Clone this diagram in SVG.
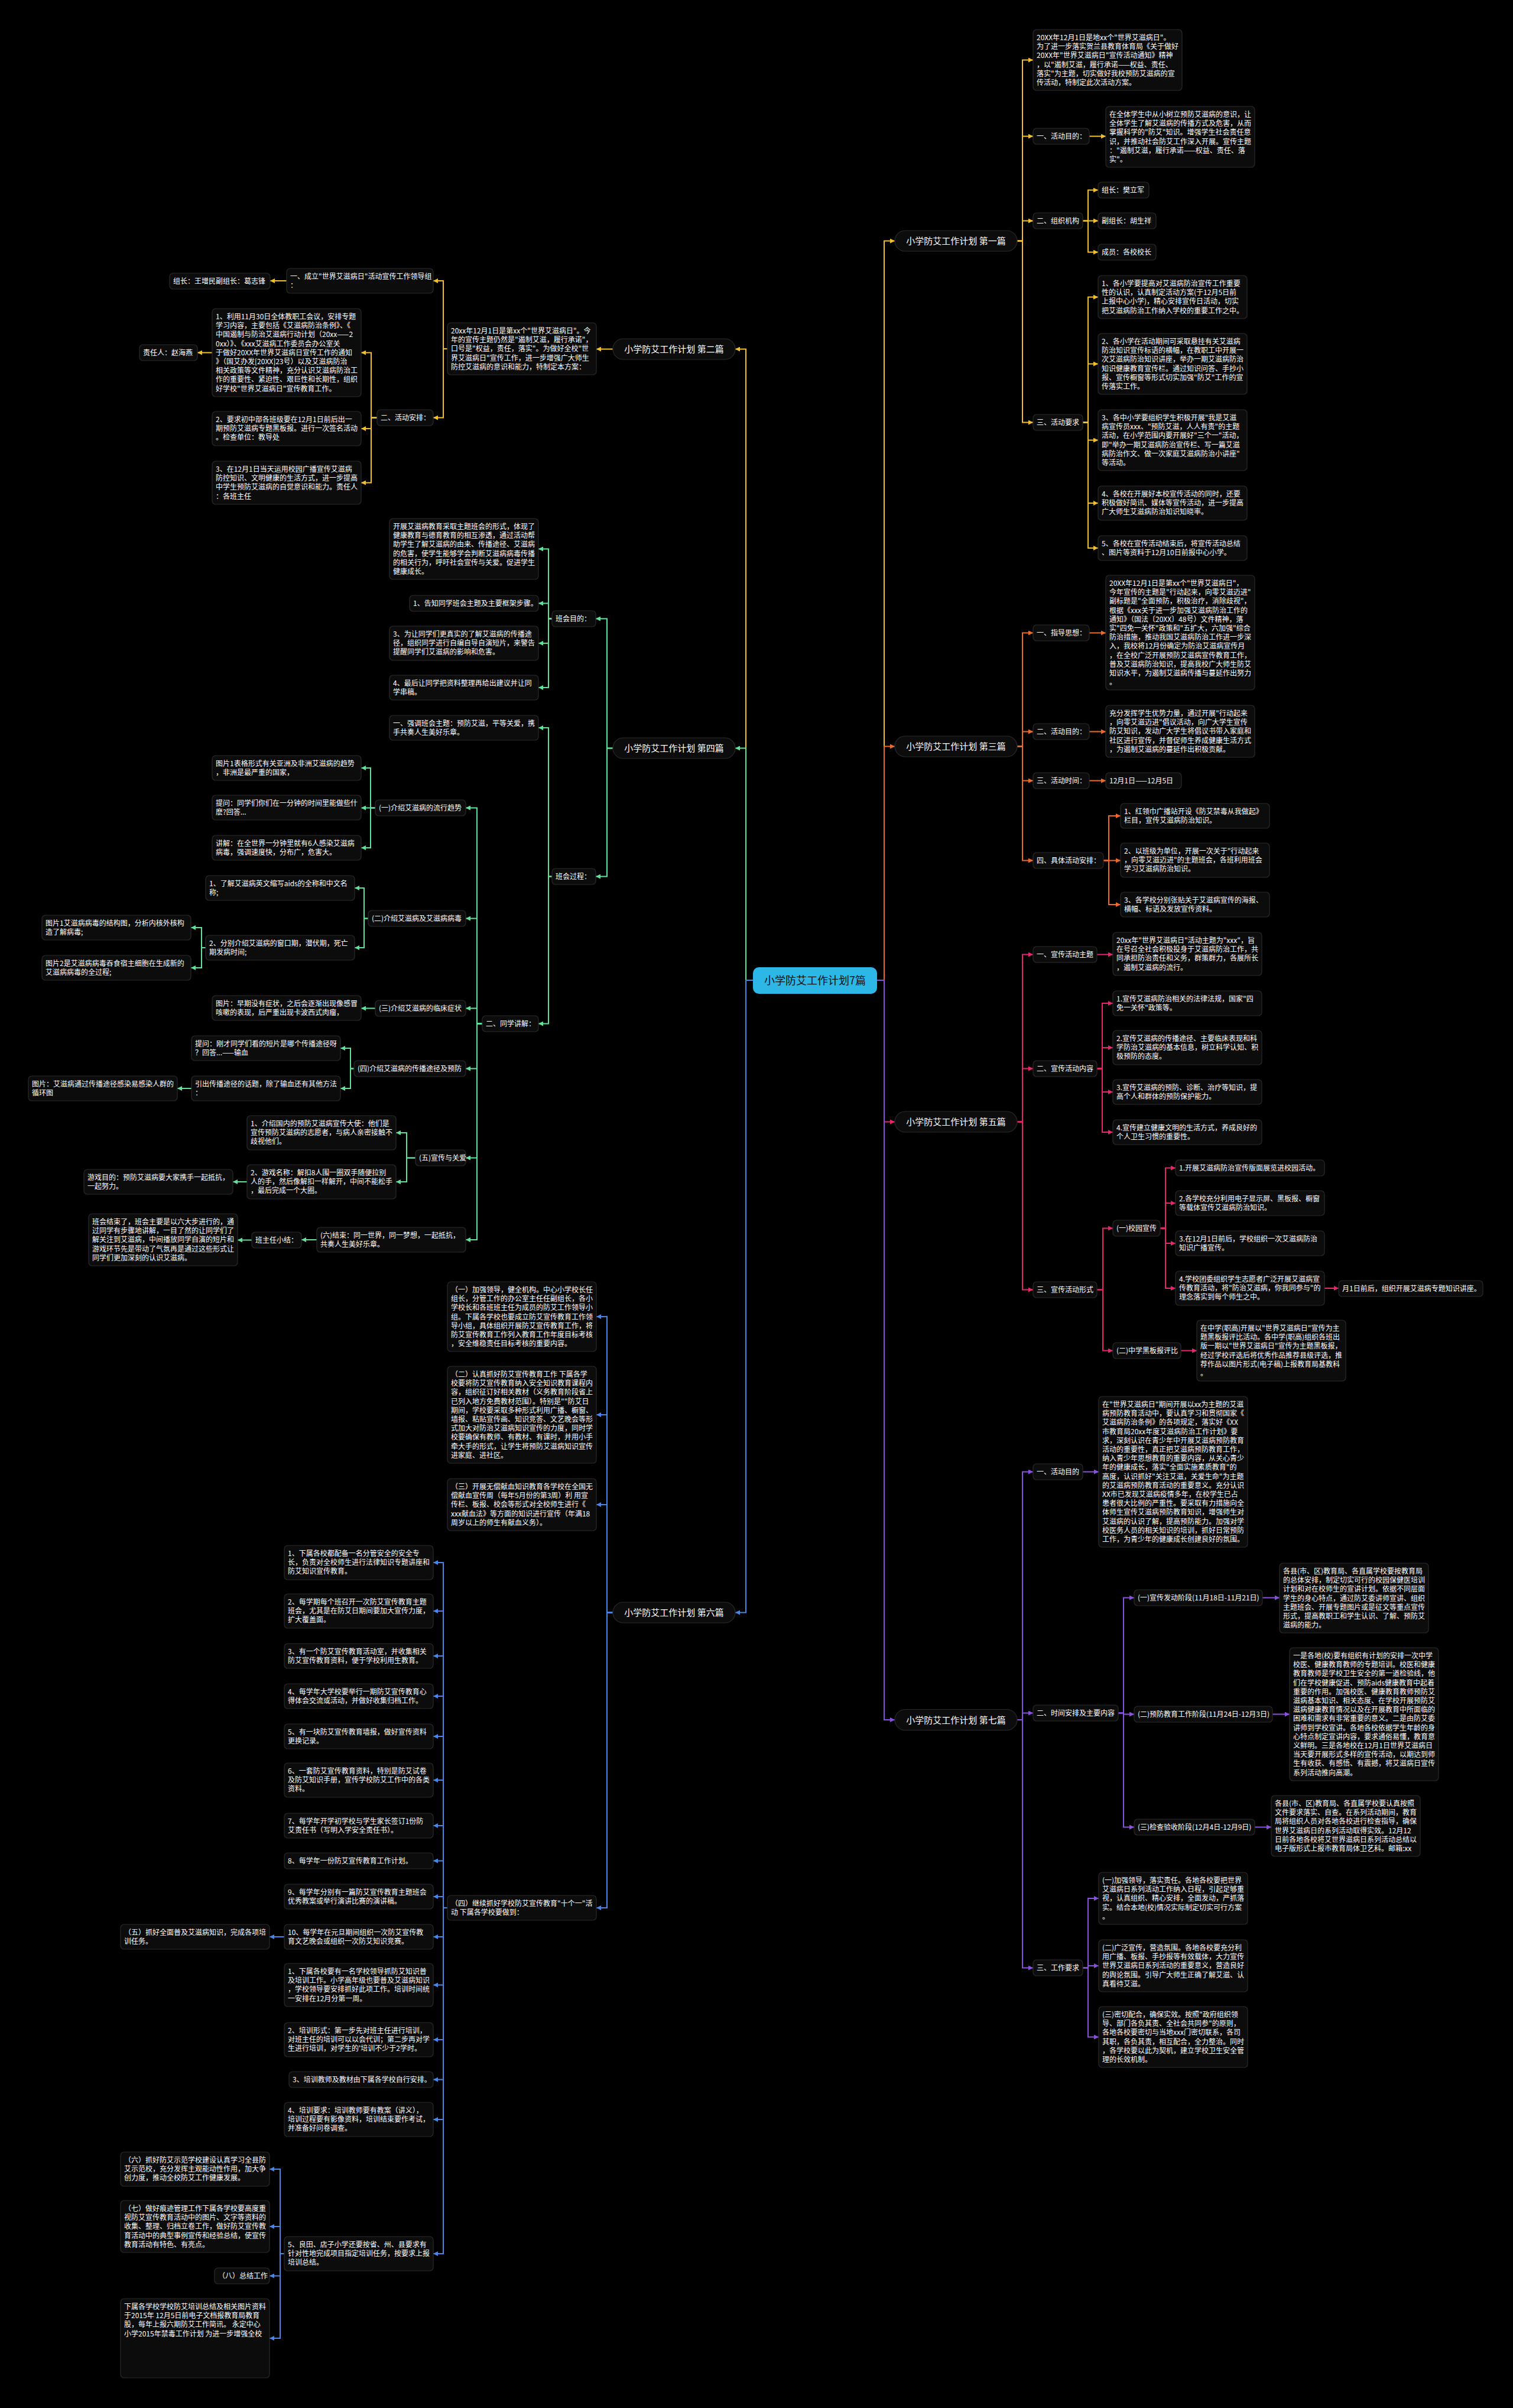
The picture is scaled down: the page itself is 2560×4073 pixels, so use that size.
<svg xmlns="http://www.w3.org/2000/svg" width="2560" height="4073" viewBox="0 0 2560 4073">
<style>
.b{fill:#0c0c0c;stroke:#2a2a2a;stroke-width:1.2}
.lb{fill:#0c0c0c;stroke:#2a2a2a;stroke-width:1.2}
.t{font-family:"Noto Sans CJK SC","Noto Sans",sans-serif;font-size:12px;fill:#ffffff}
.l{font-family:"Noto Sans CJK SC","Noto Sans",sans-serif;font-size:15px;fill:#ffffff;text-anchor:middle}
.c{fill:none;stroke-width:2}
.y{stroke:#f0c030}.o{stroke:#ee6a2a}.p{stroke:#e6266e}.v{stroke:#8a50e0}.g{stroke:#5fe39a}.u{stroke:#4a86e8}
</style>
<defs>
<marker id="ay" viewBox="0 0 8 8" refX="8" refY="4" markerWidth="8" markerHeight="8" markerUnits="userSpaceOnUse" orient="auto"><path d="M0,0L8,4L0,8z" fill="#f0c030"/></marker>
<marker id="ao" viewBox="0 0 8 8" refX="8" refY="4" markerWidth="8" markerHeight="8" markerUnits="userSpaceOnUse" orient="auto"><path d="M0,0L8,4L0,8z" fill="#ee6a2a"/></marker>
<marker id="ap" viewBox="0 0 8 8" refX="8" refY="4" markerWidth="8" markerHeight="8" markerUnits="userSpaceOnUse" orient="auto"><path d="M0,0L8,4L0,8z" fill="#e6266e"/></marker>
<marker id="av" viewBox="0 0 8 8" refX="8" refY="4" markerWidth="8" markerHeight="8" markerUnits="userSpaceOnUse" orient="auto"><path d="M0,0L8,4L0,8z" fill="#8a50e0"/></marker>
<marker id="ag" viewBox="0 0 8 8" refX="8" refY="4" markerWidth="8" markerHeight="8" markerUnits="userSpaceOnUse" orient="auto"><path d="M0,0L8,4L0,8z" fill="#5fe39a"/></marker>
<marker id="au" viewBox="0 0 8 8" refX="8" refY="4" markerWidth="8" markerHeight="8" markerUnits="userSpaceOnUse" orient="auto"><path d="M0,0L8,4L0,8z" fill="#4a86e8"/></marker>
</defs>
<rect x="0" y="0" width="2560" height="4073" fill="#000000"/>

<g id="connectors">
<g class="c y" marker-end="url(#ay)">
<path d="M1484,1658H1496V407.5H1514"/>
<path d="M1721,407.5H1730V101.5H1748"/>
<path d="M1721,407.5H1730V230.5H1748"/>
<path d="M1721,407.5H1730V373.5H1748"/>
<path d="M1721,407.5H1730V714.5H1748"/>
<path d="M1843,230.5H1871"/>
<path d="M1832,373.5H1841V321.5H1858"/>
<path d="M1832,373.5H1858"/>
<path d="M1832,373.5H1841V426.5H1858"/>
<path d="M1832,714.5H1841V502.5H1858"/>
<path d="M1832,714.5H1841V615.5H1858"/>
<path d="M1832,714.5H1841V744.5H1858"/>
<path d="M1832,714.5H1841V851H1858"/>
<path d="M1832,714.5H1841V927H1858"/>
<path d="M1274,1658H1262V590.5H1244"/>
<path d="M1037,590.5H1009"/>
<path d="M757,590H750V475H733"/>
<path d="M757,590H750V706.5H733"/>
<path d="M485,475H457"/>
<path d="M638,706.5H628V596.5H611"/>
<path d="M638,706.5H628V725H611"/>
<path d="M638,706.5H628V816.5H611"/>
<path d="M359,596.5H334"/>
</g>
<g class="c o" marker-end="url(#ao)">
<path d="M1484,1658H1496V1262.5H1514"/>
<path d="M1721,1262.5H1730V1070.5H1748"/>
<path d="M1721,1262.5H1730V1237.5H1748"/>
<path d="M1721,1262.5H1730V1320.5H1748"/>
<path d="M1721,1262.5H1730V1455.5H1748"/>
<path d="M1843,1070.5H1871"/>
<path d="M1843,1237.5H1871"/>
<path d="M1843,1320.5H1871"/>
<path d="M1867,1455.5H1876V1380H1896"/>
<path d="M1867,1455.5H1896"/>
<path d="M1867,1455.5H1876V1530H1896"/>
</g>
<g class="c p" marker-end="url(#ap)">
<path d="M1484,1658H1496V1897.5H1514"/>
<path d="M1721,1897.5H1730V1614.5H1748"/>
<path d="M1721,1897.5H1730V1807.5H1748"/>
<path d="M1721,1897.5H1730V2181.5H1748"/>
<path d="M1856,1614.5H1883"/>
<path d="M1856,1807.5H1865V1697H1883"/>
<path d="M1856,1807.5H1865V1772H1883"/>
<path d="M1856,1807.5H1865V1847H1883"/>
<path d="M1856,1807.5H1865V1915H1883"/>
<path d="M1856,2181.5H1866V2077.5H1883"/>
<path d="M1856,2181.5H1866V2284.5H1883"/>
<path d="M1963,2077.5H1972V1975.5H1989"/>
<path d="M1963,2077.5H1972V2035H1989"/>
<path d="M1963,2077.5H1972V2103H1989"/>
<path d="M1963,2077.5H1972V2179H1989"/>
<path d="M2241,2179H2265"/>
<path d="M1998,2284.5H2025"/>
</g>
<g class="c v" marker-end="url(#av)">
<path d="M1484,1658H1496V2909H1514"/>
<path d="M1721,2909H1730V2489.5H1748"/>
<path d="M1721,2909H1730V2897.5H1748"/>
<path d="M1721,2909H1730V3328.5H1748"/>
<path d="M1832,2489.5H1859"/>
<path d="M1892,2897.5H1901V2702.5H1919"/>
<path d="M1892,2897.5H1901V2899.5H1919"/>
<path d="M1892,2897.5H1901V3090.5H1919"/>
<path d="M2136,2702.5H2165"/>
<path d="M2153,2899.5H2182"/>
<path d="M2123,3090.5H2151"/>
<path d="M1832,3328.5H1841V3211H1859"/>
<path d="M1832,3328.5H1841V3325H1859"/>
<path d="M1832,3328.5H1841V3445.5H1859"/>
</g>
<g class="c g" marker-end="url(#ag)">
<path d="M1274,1658H1262V1265.5H1244"/>
<path d="M1037,1265.5H1027V1046.5H1008"/>
<path d="M1037,1265.5H1027V1482.5H1008"/>
<path d="M934,1046.5H928V928.5H911"/>
<path d="M934,1046.5H928V1020.5H911"/>
<path d="M934,1046.5H928V1088H911"/>
<path d="M934,1046.5H928V1163H911"/>
<path d="M934,1482.5H928V1231H911"/>
<path d="M934,1482.5H928V1731.5H911"/>
<path d="M816,1731.5H807V1366.5H788"/>
<path d="M816,1731.5H807V1553.5H788"/>
<path d="M816,1731.5H807V1705.5H788"/>
<path d="M816,1731.5H807V1807.5H788"/>
<path d="M816,1731.5H807V1958.5H788"/>
<path d="M816,1731.5H807V2097H788"/>
<path d="M635,1366.5H627V1299H611"/>
<path d="M635,1366.5H611"/>
<path d="M635,1366.5H627V1434H611"/>
<path d="M623,1553.5H616V1502H600"/>
<path d="M623,1553.5H616V1603H600"/>
<path d="M348,1603H341V1569H323"/>
<path d="M348,1603H341V1637H323"/>
<path d="M635,1705.5H611"/>
<path d="M599,1807.5H593V1773H576"/>
<path d="M599,1807.5H593V1841H576"/>
<path d="M324,1841H300"/>
<path d="M703,1958.5H688V1916H670"/>
<path d="M703,1958.5H688V1999H670"/>
<path d="M418,1999H394"/>
<path d="M536,2097H510"/>
<path d="M426,2097.5H402"/>
</g>
<g class="c u" marker-end="url(#au)">
<path d="M1274,1658H1262V2727.5H1244"/>
<path d="M1037,2727.5H1027V2227H1009"/>
<path d="M1037,2727.5H1027V2393H1009"/>
<path d="M1037,2727.5H1027V2545H1009"/>
<path d="M1037,2727.5H1027V3227H1009"/>
<path d="M757,3227H750V2643H733"/>
<path d="M757,3227H750V2725H733"/>
<path d="M757,3227H750V2801H733"/>
<path d="M757,3227H750V2869H733"/>
<path d="M757,3227H750V2937H733"/>
<path d="M757,3227H750V3011H733"/>
<path d="M757,3227H750V3088H733"/>
<path d="M757,3227H750V3147.5H733"/>
<path d="M757,3227H750V3208H733"/>
<path d="M757,3227H750V3276H733"/>
<path d="M757,3227H750V3357.5H733"/>
<path d="M757,3227H750V3450H733"/>
<path d="M757,3227H750V3517.5H733"/>
<path d="M757,3227H750V3585H733"/>
<path d="M757,3227H750V3812H733"/>
<path d="M481,3276H456"/>
<path d="M481,3812H474V3669H456"/>
<path d="M481,3812H474V3766H456"/>
<path d="M481,3812H474V3849.5H456"/>
<path d="M481,3812H474V3955H456"/>
</g>
</g>

<g id="root"><rect x="1274" y="1636" width="210" height="45" rx="10" fill="#2cb7e6"/><text x="1379" y="1665" font-family="Noto Sans CJK SC, sans-serif" font-size="18" fill="#111111" text-anchor="middle">小学防艾工作计划7篇</text></g>

<!-- 第一篇 -->
<g id="p1"><rect class="lb" x="1514" y="390" width="207" height="35" rx="17.5"/><text class="l" x="1617.5" y="413">小学防艾工作计划 第一篇</text></g>
<g id="p1-intro"><rect class="b" x="1748" y="50" width="252" height="103" rx="6"/><text class="t" x="1754" y="68"><tspan x="1754">20XX年12月1日是地xx个"世界艾滋病日"。</tspan><tspan x="1754" dy="15.2">为了进一步落实贺兰县教育体育局《关于做好</tspan><tspan x="1754" dy="15.2">20XX年"世界艾滋病日"宣传活动通知》精神</tspan><tspan x="1754" dy="15.2">，以"遏制艾滋，履行承诺——权益、责任、</tspan><tspan x="1754" dy="15.2">落实"为主题，切实做好我校预防艾滋病的宣</tspan><tspan x="1754" dy="15.2">传活动，特制定此次活动方案。</tspan></text></g>
<g id="p1-a"><rect class="b" x="1748" y="217" width="95" height="27" rx="6"/><text class="t" x="1754" y="235">一、活动目的：</text></g>
<g id="p1-a1"><rect class="b" x="1871" y="180" width="252" height="103" rx="6"/><text class="t" x="1877" y="198"><tspan x="1877">在全体学生中从小树立预防艾滋病的意识，让</tspan><tspan x="1877" dy="15.2">全体学生了解艾滋病的传播方式及危害，从而</tspan><tspan x="1877" dy="15.2">掌握科学的"防艾"知识。增强学生社会责任意</tspan><tspan x="1877" dy="15.2">识，并推动社会防艾工作深入开展。宣传主题</tspan><tspan x="1877" dy="15.2">："遏制艾滋，履行承诺——权益、责任、落</tspan><tspan x="1877" dy="15.2">实"。</tspan></text></g>
<g id="p1-b"><rect class="b" x="1748" y="360" width="84" height="27" rx="6"/><text class="t" x="1754" y="378">二、组织机构</text></g>
<g id="p1-b1"><rect class="b" x="1858" y="308" width="86" height="27" rx="6"/><text class="t" x="1864" y="326">组长：樊立军</text></g>
<g id="p1-b2"><rect class="b" x="1858" y="360" width="98" height="27" rx="6"/><text class="t" x="1864" y="378">副组长：胡生祥</text></g>
<g id="p1-b3"><rect class="b" x="1858" y="413" width="98" height="27" rx="6"/><text class="t" x="1864" y="431">成员：各校校长</text></g>
<g id="p1-c"><rect class="b" x="1748" y="701" width="84" height="27" rx="6"/><text class="t" x="1754" y="719">三、活动要求</text></g>
<g id="p1-c1"><rect class="b" x="1858" y="466" width="252" height="73" rx="6"/><text class="t" x="1864" y="484"><tspan x="1864">1、各小学要提高对艾滋病防治宣传工作重要</tspan><tspan x="1864" dy="15.2">性的认识，认真制定活动方案(于12月5日前</tspan><tspan x="1864" dy="15.2">上报中心小学)，精心安排宣传日活动，切实</tspan><tspan x="1864" dy="15.2">把艾滋病防治工作纳入学校的重要工作之中。</tspan></text></g>
<g id="p1-c2"><rect class="b" x="1858" y="564" width="252" height="103" rx="6"/><text class="t" x="1864" y="582"><tspan x="1864">2、各小学在活动期间可采取悬挂有关艾滋病</tspan><tspan x="1864" dy="15.2">防治知识宣传标语的横幅，在教职工中开展一</tspan><tspan x="1864" dy="15.2">次艾滋病防治知识讲座，举办一期艾滋病防治</tspan><tspan x="1864" dy="15.2">知识健康教育宣传栏。通过知识问答、手抄小</tspan><tspan x="1864" dy="15.2">报、宣传橱窗等形式切实加强"防艾"工作的宣</tspan><tspan x="1864" dy="15.2">传落实工作。</tspan></text></g>
<g id="p1-c3"><rect class="b" x="1858" y="693" width="252" height="103" rx="6"/><text class="t" x="1864" y="711"><tspan x="1864">3、各中小学要组织学生积极开展"我是艾滋</tspan><tspan x="1864" dy="15.2">病宣传员xxx、"预防艾滋，人人有责"的主题</tspan><tspan x="1864" dy="15.2">活动，在小学范围内要开展好"三个一"活动，</tspan><tspan x="1864" dy="15.2">即"举办一期艾滋病防治宣传栏、写一篇艾滋</tspan><tspan x="1864" dy="15.2">病防治作文、做一次家庭艾滋病防治小讲座"</tspan><tspan x="1864" dy="15.2">等活动。</tspan></text></g>
<g id="p1-c4"><rect class="b" x="1858" y="822" width="252" height="58" rx="6"/><text class="t" x="1864" y="840"><tspan x="1864">4、各校在开展好本校宣传活动的同时，还要</tspan><tspan x="1864" dy="15.2">积极做好简讯、媒体等宣传活动，进一步提高</tspan><tspan x="1864" dy="15.2">广大师生艾滋病防治知识知晓率。</tspan></text></g>
<g id="p1-c5"><rect class="b" x="1858" y="906" width="252" height="42" rx="6"/><text class="t" x="1864" y="924"><tspan x="1864">5、各校在宣传活动结束后，将宣传活动总结</tspan><tspan x="1864" dy="15.2">、图片等资料于12月10日前报中心小学。</tspan></text></g>

<!-- 第三篇 -->
<g id="p3"><rect class="lb" x="1514" y="1245" width="207" height="35" rx="17.5"/><text class="l" x="1617.5" y="1268">小学防艾工作计划 第三篇</text></g>
<g id="p3-a"><rect class="b" x="1748" y="1057" width="95" height="27" rx="6"/><text class="t" x="1754" y="1075">一、指导思想：</text></g>
<g id="p3-a1"><rect class="b" x="1871" y="973" width="252" height="194" rx="6"/><text class="t" x="1877" y="991"><tspan x="1877">20XX年12月1日是第xx个"世界艾滋病日"，</tspan><tspan x="1877" dy="15.2">今年宣传的主题是"行动起来，向零艾滋迈进"</tspan><tspan x="1877" dy="15.2">副标题是"全面预防，积极治疗，消除歧视"，</tspan><tspan x="1877" dy="15.2">根据《xxx关于进一步加强艾滋病防治工作的</tspan><tspan x="1877" dy="15.2">通知》（国法〔20XX〕48号）文件精神，落</tspan><tspan x="1877" dy="15.2">实"四免一关怀"政策和"五扩大，六加强"综合</tspan><tspan x="1877" dy="15.2">防治措施，推动我国艾滋病防治工作进一步深</tspan><tspan x="1877" dy="15.2">入，我校将12月份确定为防治艾滋病宣传月</tspan><tspan x="1877" dy="15.2">，在全校广泛开展预防艾滋病宣传教育工作，</tspan><tspan x="1877" dy="15.2">普及艾滋病防治知识，提高我校广大师生防艾</tspan><tspan x="1877" dy="15.2">知识水平，为遏制艾滋病传播与蔓延作出努力</tspan><tspan x="1877" dy="15.2">。</tspan></text></g>
<g id="p3-b"><rect class="b" x="1748" y="1224" width="95" height="27" rx="6"/><text class="t" x="1754" y="1242">二、活动目的：</text></g>
<g id="p3-b1"><rect class="b" x="1871" y="1193" width="252" height="88" rx="6"/><text class="t" x="1877" y="1211"><tspan x="1877">充分发挥学生优势力量，通过开展"行动起来</tspan><tspan x="1877" dy="15.2">，向零艾滋迈进"倡议活动，向广大学生宣传</tspan><tspan x="1877" dy="15.2">防艾知识，发动广大学生将倡议书带入家庭和</tspan><tspan x="1877" dy="15.2">社区进行宣传，并督促师生养成健康生活方式</tspan><tspan x="1877" dy="15.2">，为遏制艾滋病的蔓延作出积极贡献。</tspan></text></g>
<g id="p3-c"><rect class="b" x="1748" y="1307" width="95" height="27" rx="6"/><text class="t" x="1754" y="1325">三、活动时间：</text></g>
<g id="p3-c1"><rect class="b" x="1871" y="1307" width="128" height="27" rx="6"/><text class="t" x="1877" y="1325">12月1日——12月5日</text></g>
<g id="p3-d"><rect class="b" x="1748" y="1442" width="119" height="27" rx="6"/><text class="t" x="1754" y="1460">四、具体活动安排：</text></g>
<g id="p3-d1"><rect class="b" x="1896" y="1359" width="252" height="42" rx="6"/><text class="t" x="1902" y="1377"><tspan x="1902">1、红领巾广播站开设《防艾禁毒从我做起》</tspan><tspan x="1902" dy="15.2">栏目，宣传艾滋病防治知识。</tspan></text></g>
<g id="p3-d2"><rect class="b" x="1896" y="1426" width="252" height="58" rx="6"/><text class="t" x="1902" y="1444"><tspan x="1902">2、以班级为单位，开展一次关于"行动起来</tspan><tspan x="1902" dy="15.2">，向零艾滋迈进"的主题班会，各班利用班会</tspan><tspan x="1902" dy="15.2">学习艾滋病防治知识。</tspan></text></g>
<g id="p3-d3"><rect class="b" x="1896" y="1509" width="252" height="42" rx="6"/><text class="t" x="1902" y="1527"><tspan x="1902">3、各学校分别张贴关于艾滋病宣传的海报、</tspan><tspan x="1902" dy="15.2">横幅、标语及发放宣传资料。</tspan></text></g>

<!-- 第五篇 -->
<g id="p5"><rect class="lb" x="1514" y="1880" width="207" height="35" rx="17.5"/><text class="l" x="1617.5" y="1903">小学防艾工作计划 第五篇</text></g>
<g id="p5-a"><rect class="b" x="1748" y="1601" width="108" height="27" rx="6"/><text class="t" x="1754" y="1619">一、宣传活动主题</text></g>
<g id="p5-a1"><rect class="b" x="1883" y="1577" width="252" height="73" rx="6"/><text class="t" x="1889" y="1595"><tspan x="1889">20xx年"世界艾滋病日"活动主题为"xxx"，旨</tspan><tspan x="1889" dy="15.2">在号召全社会积极投身于艾滋病防治工作，共</tspan><tspan x="1889" dy="15.2">同承担防治责任和义务，群策群力，各展所长</tspan><tspan x="1889" dy="15.2">，遏制艾滋病的流行。</tspan></text></g>
<g id="p5-b"><rect class="b" x="1748" y="1794" width="108" height="27" rx="6"/><text class="t" x="1754" y="1812">二、宣传活动内容</text></g>
<g id="p5-b1"><rect class="b" x="1883" y="1676" width="252" height="42" rx="6"/><text class="t" x="1889" y="1694"><tspan x="1889">1.宣传艾滋病防治相关的法律法规，国家"四</tspan><tspan x="1889" dy="15.2">免一关怀"政策等。</tspan></text></g>
<g id="p5-b2"><rect class="b" x="1883" y="1743" width="252" height="58" rx="6"/><text class="t" x="1889" y="1761"><tspan x="1889">2.宣传艾滋病的传播途径、主要临床表现和科</tspan><tspan x="1889" dy="15.2">学防治艾滋病的基本信息，树立科学认知、积</tspan><tspan x="1889" dy="15.2">极预防的态度。</tspan></text></g>
<g id="p5-b3"><rect class="b" x="1883" y="1826" width="252" height="42" rx="6"/><text class="t" x="1889" y="1844"><tspan x="1889">3.宣传艾滋病的预防、诊断、治疗等知识，提</tspan><tspan x="1889" dy="15.2">高个人和群体的预防保护能力。</tspan></text></g>
<g id="p5-b4"><rect class="b" x="1883" y="1894" width="252" height="42" rx="6"/><text class="t" x="1889" y="1912"><tspan x="1889">4.宣传建立健康文明的生活方式，养成良好的</tspan><tspan x="1889" dy="15.2">个人卫生习惯的重要性。</tspan></text></g>
<g id="p5-c"><rect class="b" x="1748" y="2168" width="108" height="27" rx="6"/><text class="t" x="1754" y="2186">三、宣传活动形式</text></g>
<g id="p5-c1"><rect class="b" x="1883" y="2064" width="80" height="27" rx="6"/><text class="t" x="1889" y="2082">(一)校园宣传</text></g>
<g id="p5-c1a"><rect class="b" x="1989" y="1962" width="252" height="27" rx="6"/><text class="t" x="1995" y="1980">1.开展艾滋病防治宣传版面展览进校园活动。</text></g>
<g id="p5-c1b"><rect class="b" x="1989" y="2014" width="252" height="42" rx="6"/><text class="t" x="1995" y="2032"><tspan x="1995">2.各学校充分利用电子显示屏、黑板报、橱窗</tspan><tspan x="1995" dy="15.2">等载体宣传艾滋病防治知识。</tspan></text></g>
<g id="p5-c1c"><rect class="b" x="1989" y="2082" width="252" height="42" rx="6"/><text class="t" x="1995" y="2100"><tspan x="1995">3.在12月1日前后，学校组织一次艾滋病防治</tspan><tspan x="1995" dy="15.2">知识广播宣传。</tspan></text></g>
<g id="p5-c1d"><rect class="b" x="1989" y="2150" width="252" height="58" rx="6"/><text class="t" x="1995" y="2168"><tspan x="1995">4.学校团委组织学生志愿者广泛开展艾滋病宣</tspan><tspan x="1995" dy="15.2">传教育活动，将"防治艾滋病，你我同参与"的</tspan><tspan x="1995" dy="15.2">理念落实到每个师生之中。</tspan></text></g>
<g id="p5-c1d1"><rect class="b" x="2265" y="2166" width="244" height="27" rx="6"/><text class="t" x="2271" y="2184">月1日前后，组织开展艾滋病专题知识讲座。</text></g>
<g id="p5-c2"><rect class="b" x="1883" y="2271" width="115" height="27" rx="6"/><text class="t" x="1889" y="2289">(二)中学黑板报评比</text></g>
<g id="p5-c2a"><rect class="b" x="2025" y="2233" width="252" height="103" rx="6"/><text class="t" x="2031" y="2251"><tspan x="2031">在中学(职高)开展以"世界艾滋病日"宣传为主</tspan><tspan x="2031" dy="15.2">题黑板报评比活动。各中学(职高)组织各班出</tspan><tspan x="2031" dy="15.2">版一期以"世界艾滋病日"宣传为主题黑板报，</tspan><tspan x="2031" dy="15.2">经过学校评选后将优秀作品推荐县级评选，推</tspan><tspan x="2031" dy="15.2">荐作品以图片形式(电子稿)上报教育局基教科</tspan><tspan x="2031" dy="15.2">。</tspan></text></g>

<!-- 第七篇 -->
<g id="p7"><rect class="lb" x="1514" y="2891.5" width="207" height="35" rx="17.5"/><text class="l" x="1617.5" y="2914.5">小学防艾工作计划 第七篇</text></g>
<g id="p7-a"><rect class="b" x="1748" y="2476" width="84" height="27" rx="6"/><text class="t" x="1754" y="2494">一、活动目的</text></g>
<g id="p7-a1"><rect class="b" x="1859" y="2362" width="252" height="255" rx="6"/><text class="t" x="1865" y="2380"><tspan x="1865">在"世界艾滋病日"期间开展以xx为主题的艾滋</tspan><tspan x="1865" dy="15.2">病预防教育活动中，要认真学习和贯彻国家《</tspan><tspan x="1865" dy="15.2">艾滋病防治条例》的各项规定，落实好《XX</tspan><tspan x="1865" dy="15.2">市教育局20xx年度艾滋病防治工作计划》要</tspan><tspan x="1865" dy="15.2">求，深刻认识在青少年中开展艾滋病预防教育</tspan><tspan x="1865" dy="15.2">活动的重要性，真正把艾滋病预防教育工作，</tspan><tspan x="1865" dy="15.2">纳入青少年思想教育的重要内容，从关心青少</tspan><tspan x="1865" dy="15.2">年的健康成长，落实"全面实施素质教育"的</tspan><tspan x="1865" dy="15.2">高度，认识抓好"关注艾滋，关爱生命"为主题</tspan><tspan x="1865" dy="15.2">的艾滋病预防教育活动的重要意义。充分认识</tspan><tspan x="1865" dy="15.2">XX市已发现艾滋病疫情多年，在校学生已占</tspan><tspan x="1865" dy="15.2">患者很大比例的严重性。要采取有力措施向全</tspan><tspan x="1865" dy="15.2">体师生宣传艾滋病预防教育知识，增强师生对</tspan><tspan x="1865" dy="15.2">艾滋病的认识了解，提高预防能力。加强对学</tspan><tspan x="1865" dy="15.2">校医务人员的相关知识的培训，抓好日常预防</tspan><tspan x="1865" dy="15.2">工作，为青少年的健康成长创建良好的氛围。</tspan></text></g>
<g id="p7-b"><rect class="b" x="1748" y="2884" width="144" height="27" rx="6"/><text class="t" x="1754" y="2902">二、时间安排及主要内容</text></g>
<g id="p7-b1"><rect class="b" x="1919" y="2689" width="217" height="27" rx="6"/><text class="t" x="1925" y="2707">(一)宣传发动阶段(11月18日-11月21日)</text></g>
<g id="p7-b1a"><rect class="b" x="2165" y="2644" width="252" height="118" rx="6"/><text class="t" x="2171" y="2662"><tspan x="2171">各县(市、区)教育局、各直属学校要按教育局</tspan><tspan x="2171" dy="15.2">的总体安排，制定切实可行的校园保健医培训</tspan><tspan x="2171" dy="15.2">计划和对在校师生的宣讲计划。依据不同层面</tspan><tspan x="2171" dy="15.2">学生的身心特点，通过防艾委讲师宣讲、组织</tspan><tspan x="2171" dy="15.2">主题班会、开展专题图片或是征文等重点宣传</tspan><tspan x="2171" dy="15.2">形式，提高教职工和学生认识、了解、预防艾</tspan><tspan x="2171" dy="15.2">滋病的能力。</tspan></text></g>
<g id="p7-b2"><rect class="b" x="1919" y="2886" width="234" height="27" rx="6"/><text class="t" x="1925" y="2904">(二)预防教育工作阶段(11月24日-12月3日)</text></g>
<g id="p7-b2a"><rect class="b" x="2182" y="2787" width="252" height="225" rx="6"/><text class="t" x="2188" y="2805"><tspan x="2188">一是各地(校)要有组织有计划的安排一次中学</tspan><tspan x="2188" dy="15.2">校医、健康教育教师的专题培训。校医和健康</tspan><tspan x="2188" dy="15.2">教育教师是学校卫生安全的第一道检验线，他</tspan><tspan x="2188" dy="15.2">们在学校健康促进、预防aids健康教育中起着</tspan><tspan x="2188" dy="15.2">重要的作用。加强校医、健康教育教师预防艾</tspan><tspan x="2188" dy="15.2">滋病基本知识、相关态度、在学校开展预防艾</tspan><tspan x="2188" dy="15.2">滋病健康教育情况以及在开展教育中所面临的</tspan><tspan x="2188" dy="15.2">困难和需求有非常重要的意义。二是由防艾委</tspan><tspan x="2188" dy="15.2">讲师到学校宣讲。各地各校依据学生年龄的身</tspan><tspan x="2188" dy="15.2">心特点制定宣讲内容，要求通俗易懂，教育意</tspan><tspan x="2188" dy="15.2">义鲜明。三是各地校在12月1日世界艾滋病日</tspan><tspan x="2188" dy="15.2">当天要开展形式多样的宣传活动，以期达到师</tspan><tspan x="2188" dy="15.2">生有收获、有感悟、有震撼，将艾滋病日宣传</tspan><tspan x="2188" dy="15.2">系列活动推向高潮。</tspan></text></g>
<g id="p7-b3"><rect class="b" x="1919" y="3077" width="204" height="27" rx="6"/><text class="t" x="1925" y="3095">(三)检查验收阶段(12月4日-12月9日)</text></g>
<g id="p7-b3a"><rect class="b" x="2151" y="3037" width="252" height="103" rx="6"/><text class="t" x="2157" y="3055"><tspan x="2157">各县(市、区)教育局、各直属学校要认真按照</tspan><tspan x="2157" dy="15.2">文件要求落实、自查。在系列活动期间，教育</tspan><tspan x="2157" dy="15.2">局将组织人员对各地各校进行检查指导，确保</tspan><tspan x="2157" dy="15.2">世界艾滋病日的系列活动取得实效。12月12</tspan><tspan x="2157" dy="15.2">日前各地各校将艾世界滋病日系列活动总结以</tspan><tspan x="2157" dy="15.2">电子版形式上报市教育局体卫艺科。邮箱:xx</tspan></text></g>
<g id="p7-c"><rect class="b" x="1748" y="3315" width="84" height="27" rx="6"/><text class="t" x="1754" y="3333">三、工作要求</text></g>
<g id="p7-c1"><rect class="b" x="1859" y="3167" width="252" height="88" rx="6"/><text class="t" x="1865" y="3185"><tspan x="1865">(一)加强领导，落实责任。各地各校要把世界</tspan><tspan x="1865" dy="15.2">艾滋病日系列活动工作纳入日程，引起足够重</tspan><tspan x="1865" dy="15.2">视，认真组织、精心安排，全面发动，严抓落</tspan><tspan x="1865" dy="15.2">实。结合本地(校)情况实际制定切实可行方案</tspan><tspan x="1865" dy="15.2">。</tspan></text></g>
<g id="p7-c2"><rect class="b" x="1859" y="3281" width="252" height="88" rx="6"/><text class="t" x="1865" y="3299"><tspan x="1865">(二)广泛宣传，营造氛围。各地各校要充分利</tspan><tspan x="1865" dy="15.2">用广播、板报、手抄报等有效载体，大力宣传</tspan><tspan x="1865" dy="15.2">世界艾滋病日系列活动的重要意义，营造良好</tspan><tspan x="1865" dy="15.2">的舆论氛围。引导广大师生正确了解艾滋、认</tspan><tspan x="1865" dy="15.2">真看待艾滋。</tspan></text></g>
<g id="p7-c3"><rect class="b" x="1859" y="3394" width="252" height="103" rx="6"/><text class="t" x="1865" y="3412"><tspan x="1865">(三)密切配合，确保实效。按照"政府组织领</tspan><tspan x="1865" dy="15.2">导、部门各负其责、全社会共同参"的原则，</tspan><tspan x="1865" dy="15.2">各地各校要密切与当地xxx门密切联系，各司</tspan><tspan x="1865" dy="15.2">其职，各负其责，相互配合，全力整治。同时</tspan><tspan x="1865" dy="15.2">，各学校要以此为契机，建立学校卫生安全管</tspan><tspan x="1865" dy="15.2">理的长效机制。</tspan></text></g>

<!-- 第二篇 -->
<g id="p2"><rect class="lb" x="1037" y="573" width="207" height="35" rx="17.5"/><text class="l" x="1140.5" y="596">小学防艾工作计划 第二篇</text></g>
<g id="p2-intro"><rect class="b" x="757" y="546" width="252" height="88" rx="6"/><text class="t" x="763" y="564"><tspan x="763">20xx年12月1日是第xx个"世界艾滋病日"。今</tspan><tspan x="763" dy="15.2">年的宣传主题仍然是"遏制艾滋，履行承诺"，</tspan><tspan x="763" dy="15.2">口号是"权益，责任，落实"。为做好全校"世</tspan><tspan x="763" dy="15.2">界艾滋病日"宣传工作，进一步增强广大师生</tspan><tspan x="763" dy="15.2">防控艾滋病的意识和能力，特制定本方案：</tspan></text></g>
<g id="p2-a"><rect class="b" x="485" y="454" width="248" height="42" rx="6"/><text class="t" x="491" y="472"><tspan x="491">一、成立"世界艾滋病日"活动宣传工作领导组</tspan><tspan x="491" dy="15.2">：</tspan></text></g>
<g id="p2-a1"><rect class="b" x="287" y="462" width="170" height="27" rx="6"/><text class="t" x="293" y="480">组长：王增民副组长：葛志锋</text></g>
<g id="p2-b"><rect class="b" x="638" y="693" width="95" height="27" rx="6"/><text class="t" x="644" y="711">二、活动安排：</text></g>
<g id="p2-b1"><rect class="b" x="359" y="522" width="252" height="149" rx="6"/><text class="t" x="365" y="540"><tspan x="365">1、利用11月30日全体教职工会议，安排专题</tspan><tspan x="365" dy="15.2">学习内容，主要包括《艾滋病防治条例》、《</tspan><tspan x="365" dy="15.2">中国遏制与防治艾滋病行动计划（20xx——2</tspan><tspan x="365" dy="15.2">0xx）》、《xxx艾滋病工作委员会办公室关</tspan><tspan x="365" dy="15.2">于做好20XX年世界艾滋病日宣传工作的通知</tspan><tspan x="365" dy="15.2">》（国艾办发[20XX]23号）以及艾滋病防治</tspan><tspan x="365" dy="15.2">相关政策等文件精神，充分认识艾滋病防治工</tspan><tspan x="365" dy="15.2">作的重要性、紧迫性、艰巨性和长期性，组织</tspan><tspan x="365" dy="15.2">好学校"世界艾滋病日"宣传教育工作。</tspan></text></g>
<g id="p2-b1a"><rect class="b" x="236" y="583" width="98" height="27" rx="6"/><text class="t" x="242" y="601">责任人：赵海燕</text></g>
<g id="p2-b2"><rect class="b" x="359" y="696" width="252" height="58" rx="6"/><text class="t" x="365" y="714"><tspan x="365">2、要求初中部各班级要在12月1日前后出一</tspan><tspan x="365" dy="15.2">期预防艾滋病专题黑板报。进行一次签名活动</tspan><tspan x="365" dy="15.2">。检查单位：教导处</tspan></text></g>
<g id="p2-b3"><rect class="b" x="359" y="780" width="252" height="73" rx="6"/><text class="t" x="365" y="798"><tspan x="365">3、在12月1日当天运用校园广播宣传艾滋病</tspan><tspan x="365" dy="15.2">防控知识、文明健康的生活方式，进一步提高</tspan><tspan x="365" dy="15.2">中学生预防艾滋病的自觉意识和能力。责任人</tspan><tspan x="365" dy="15.2">：各班主任</tspan></text></g>

<!-- 第四篇 -->
<g id="p4"><rect class="lb" x="1037" y="1248" width="207" height="35" rx="17.5"/><text class="l" x="1140.5" y="1271">小学防艾工作计划 第四篇</text></g>
<g id="p4-a"><rect class="b" x="934" y="1033" width="74" height="27" rx="6"/><text class="t" x="940" y="1051">班会目的：</text></g>
<g id="p4-a0"><rect class="b" x="659" y="877" width="252" height="103" rx="6"/><text class="t" x="665" y="895"><tspan x="665">开展艾滋病教育采取主题班会的形式，体现了</tspan><tspan x="665" dy="15.2">健康教育与德育教育的相互渗透，通过活动帮</tspan><tspan x="665" dy="15.2">助学生了解艾滋病的由来、传播途径、艾滋病</tspan><tspan x="665" dy="15.2">的危害，使学生能够学会判断艾滋病病毒传播</tspan><tspan x="665" dy="15.2">的相关行为，呼吁社会宣传与关爱。促进学生</tspan><tspan x="665" dy="15.2">健康成长。</tspan></text></g>
<g id="p4-a1"><rect class="b" x="693" y="1007" width="218" height="27" rx="6"/><text class="t" x="699" y="1025">1、告知同学班会主题及主要框架步骤。</text></g>
<g id="p4-a3"><rect class="b" x="659" y="1059" width="252" height="58" rx="6"/><text class="t" x="665" y="1077"><tspan x="665">3、为让同学们更真实的了解艾滋病的传播途</tspan><tspan x="665" dy="15.2">径，组织同学进行自编自导自演短片，来警告</tspan><tspan x="665" dy="15.2">提醒同学们艾滋病的影响和危害。</tspan></text></g>
<g id="p4-a4"><rect class="b" x="659" y="1142" width="252" height="42" rx="6"/><text class="t" x="665" y="1160"><tspan x="665">4、最后让同学把资料整理再给出建议并让同</tspan><tspan x="665" dy="15.2">学串稿。</tspan></text></g>
<g id="p4-b"><rect class="b" x="934" y="1469" width="74" height="27" rx="6"/><text class="t" x="940" y="1487">班会过程：</text></g>
<g id="p4-b1"><rect class="b" x="659" y="1210" width="252" height="42" rx="6"/><text class="t" x="665" y="1228"><tspan x="665">一、强调班会主题：预防艾滋，平等关爱，携</tspan><tspan x="665" dy="15.2">手共奏人生美好乐章。</tspan></text></g>
<g id="p4-b2"><rect class="b" x="816" y="1718" width="95" height="27" rx="6"/><text class="t" x="822" y="1736">二、同学讲解：</text></g>
<g id="p4-s1"><rect class="b" x="635" y="1353" width="153" height="27" rx="6"/><text class="t" x="641" y="1371">(一)介绍艾滋病的流行趋势</text></g>
<g id="p4-s1a"><rect class="b" x="359" y="1278" width="252" height="42" rx="6"/><text class="t" x="365" y="1296"><tspan x="365">图片1表格形式有关亚洲及非洲艾滋病的趋势</tspan><tspan x="365" dy="15.2">，非洲是最严重的国家，</tspan></text></g>
<g id="p4-s1b"><rect class="b" x="359" y="1345" width="252" height="42" rx="6"/><text class="t" x="365" y="1363"><tspan x="365">提问：同学们你们在一分钟的时间里能做些什</tspan><tspan x="365" dy="15.2">麽?回答...</tspan></text></g>
<g id="p4-s1c"><rect class="b" x="359" y="1413" width="252" height="42" rx="6"/><text class="t" x="365" y="1431"><tspan x="365">讲解：在全世界一分钟里就有6人感染艾滋病</tspan><tspan x="365" dy="15.2">病毒，强调速度快，分布广，危害大。</tspan></text></g>
<g id="p4-s2"><rect class="b" x="623" y="1540" width="165" height="27" rx="6"/><text class="t" x="629" y="1558">(二)介绍艾滋病及艾滋病病毒</text></g>
<g id="p4-s2a"><rect class="b" x="348" y="1481" width="252" height="42" rx="6"/><text class="t" x="354" y="1499"><tspan x="354">1、了解艾滋病英文缩写aids的全称和中文名</tspan><tspan x="354" dy="15.2">称;</tspan></text></g>
<g id="p4-s2b"><rect class="b" x="348" y="1582" width="252" height="42" rx="6"/><text class="t" x="354" y="1600"><tspan x="354">2、分别介绍艾滋病的窗口期，潜伏期，死亡</tspan><tspan x="354" dy="15.2">期发病时间;</tspan></text></g>
<g id="p4-s2b1"><rect class="b" x="71" y="1548" width="252" height="42" rx="6"/><text class="t" x="77" y="1566"><tspan x="77">图片1艾滋病病毒的结构图，分析内核外核构</tspan><tspan x="77" dy="15.2">造了解病毒;</tspan></text></g>
<g id="p4-s2b2"><rect class="b" x="71" y="1616" width="252" height="42" rx="6"/><text class="t" x="77" y="1634"><tspan x="77">图片2是艾滋病病毒吞食宿主细胞在生成新的</tspan><tspan x="77" dy="15.2">艾滋病病毒的全过程;</tspan></text></g>
<g id="p4-s3"><rect class="b" x="635" y="1692" width="153" height="27" rx="6"/><text class="t" x="641" y="1710">(三)介绍艾滋病的临床症状</text></g>
<g id="p4-s3a"><rect class="b" x="359" y="1684" width="252" height="42" rx="6"/><text class="t" x="365" y="1702"><tspan x="365">图片：早期没有症状，之后会逐渐出现像感冒</tspan><tspan x="365" dy="15.2">咳嗽的表现，后严重出现卡波西式肉瘤，</tspan></text></g>
<g id="p4-s4"><rect class="b" x="599" y="1794" width="189" height="27" rx="6"/><text class="t" x="605" y="1812">(四)介绍艾滋病的传播途径及预防</text></g>
<g id="p4-s4a"><rect class="b" x="324" y="1752" width="252" height="42" rx="6"/><text class="t" x="330" y="1770"><tspan x="330">提问：刚才同学们看的短片是哪个传播途径呀</tspan><tspan x="330" dy="15.2">？回答...——输血</tspan></text></g>
<g id="p4-s4b"><rect class="b" x="324" y="1820" width="252" height="42" rx="6"/><text class="t" x="330" y="1838"><tspan x="330">引出传播途径的话题，除了输血还有其他方法</tspan><tspan x="330" dy="15.2">：</tspan></text></g>
<g id="p4-s4b1"><rect class="b" x="48" y="1820" width="252" height="42" rx="6"/><text class="t" x="54" y="1838"><tspan x="54">图片：艾滋病通过传播途径感染易感染人群的</tspan><tspan x="54" dy="15.2">循环图</tspan></text></g>
<g id="p4-s5"><rect class="b" x="703" y="1945" width="85" height="27" rx="6"/><text class="t" x="709" y="1963">(五)宣传与关爱</text></g>
<g id="p4-s5a"><rect class="b" x="418" y="1887" width="252" height="58" rx="6"/><text class="t" x="424" y="1905"><tspan x="424">1、介绍国内的预防艾滋病宣传大使：他们是</tspan><tspan x="424" dy="15.2">宣传预防艾滋病的志愿者，与病人亲密接触不</tspan><tspan x="424" dy="15.2">歧视他们。</tspan></text></g>
<g id="p4-s5b"><rect class="b" x="418" y="1970" width="252" height="58" rx="6"/><text class="t" x="424" y="1988"><tspan x="424">2、游戏名称：解扣8人围一圈双手随便拉别</tspan><tspan x="424" dy="15.2">人的手，然后像解扣一样解开，中间不能松手</tspan><tspan x="424" dy="15.2">，最后完成一个大圈。</tspan></text></g>
<g id="p4-s5b1"><rect class="b" x="142" y="1978" width="252" height="42" rx="6"/><text class="t" x="148" y="1996"><tspan x="148">游戏目的：预防艾滋病要大家携手一起抵抗，</tspan><tspan x="148" dy="15.2">一起努力。</tspan></text></g>
<g id="p4-s6"><rect class="b" x="536" y="2076" width="252" height="42" rx="6"/><text class="t" x="542" y="2094"><tspan x="542">(六)结束：同一世界，同一梦想，一起抵抗，</tspan><tspan x="542" dy="15.2">共奏人生美好乐章。</tspan></text></g>
<g id="p4-s6a"><rect class="b" x="426" y="2084" width="84" height="27" rx="6"/><text class="t" x="432" y="2102">班主任小结：</text></g>
<g id="p4-s6a1"><rect class="b" x="150" y="2053" width="252" height="88" rx="6"/><text class="t" x="156" y="2071"><tspan x="156">班会结束了，班会主要是以六大步进行的，通</tspan><tspan x="156" dy="15.2">过同学有步骤地讲解，一目了然的让同学们了</tspan><tspan x="156" dy="15.2">解关注到艾滋病，中间播放同学自演的短片和</tspan><tspan x="156" dy="15.2">游戏环节先是带动了气氛再是通过这些形式让</tspan><tspan x="156" dy="15.2">同学们更加深刻的认识艾滋病。</tspan></text></g>

<!-- 第六篇 -->
<g id="p6"><rect class="lb" x="1037" y="2710" width="207" height="35" rx="17.5"/><text class="l" x="1140.5" y="2733">小学防艾工作计划 第六篇</text></g>
<g id="p6-a"><rect class="b" x="757" y="2168" width="252" height="118" rx="6"/><text class="t" x="763" y="2186"><tspan x="763">（一）加强领导，健全机构。中心小学校长任</tspan><tspan x="763" dy="15.2">组长，分管工作的办公室主任任副组长，各小</tspan><tspan x="763" dy="15.2">学校长和各班班主任为成员的防艾工作领导小</tspan><tspan x="763" dy="15.2">组。下属各学校也要成立防艾宣传教育工作领</tspan><tspan x="763" dy="15.2">导小组，具体组织开展防艾宣传教育工作，将</tspan><tspan x="763" dy="15.2">防艾宣传教育工作列入教育工作年度目标考核</tspan><tspan x="763" dy="15.2">，安全维稳责任目标考核的重要内容。</tspan></text></g>
<g id="p6-b"><rect class="b" x="757" y="2311" width="252" height="164" rx="6"/><text class="t" x="763" y="2329"><tspan x="763">（二）认真抓好防艾宣传教育工作 下属各学</tspan><tspan x="763" dy="15.2">校要将防艾宣传教育纳入安全知识教育课程内</tspan><tspan x="763" dy="15.2">容，组织征订好相关教材（义务教育阶段省上</tspan><tspan x="763" dy="15.2">已列入地方免费教材范围）。特别是""防艾日</tspan><tspan x="763" dy="15.2">期间，学校要采取多种形式利用广播、橱窗、</tspan><tspan x="763" dy="15.2">墙报、粘贴宣传画、知识竞答、文艺晚会等形</tspan><tspan x="763" dy="15.2">式加大对防治艾滋病知识宣传的力度，同时学</tspan><tspan x="763" dy="15.2">校要确保有教师、有教材、有课时，并用小手</tspan><tspan x="763" dy="15.2">牵大手的形式，让学生将预防艾滋病知识宣传</tspan><tspan x="763" dy="15.2">进家庭、进社区。</tspan></text></g>
<g id="p6-c"><rect class="b" x="757" y="2501" width="252" height="88" rx="6"/><text class="t" x="763" y="2519"><tspan x="763">（三）开展无偿献血知识教育各学校在全国无</tspan><tspan x="763" dy="15.2">偿献血宣传周（每年5月份的第3周）利 用宣</tspan><tspan x="763" dy="15.2">传栏、板报、校会等形式对全校师生进行《</tspan><tspan x="763" dy="15.2">xxx献血法》等方面的知识进行宣传（年满18</tspan><tspan x="763" dy="15.2">周岁以上的师生有献血义务）。</tspan></text></g>
<g id="p6-d"><rect class="b" x="757" y="3206" width="252" height="42" rx="6"/><text class="t" x="763" y="3224"><tspan x="763">（四）继续抓好学校防艾宣传教育"十个一"活</tspan><tspan x="763" dy="15.2">动 下属各学校要做到：</tspan></text></g>
<g id="p6-d1"><rect class="b" x="481" y="2614" width="252" height="58" rx="6"/><text class="t" x="487" y="2632"><tspan x="487">1、下属各校都配备一名分管安全的安全专</tspan><tspan x="487" dy="15.2">长，负责对全校师生进行法律知识专题讲座和</tspan><tspan x="487" dy="15.2">防艾知识宣传教育。</tspan></text></g>
<g id="p6-d2"><rect class="b" x="481" y="2696" width="252" height="58" rx="6"/><text class="t" x="487" y="2714"><tspan x="487">2、每学期每个班召开一次防艾宣传教育主题</tspan><tspan x="487" dy="15.2">班会，尤其是在防艾日期间要加大宣传力度，</tspan><tspan x="487" dy="15.2">扩大覆盖面。</tspan></text></g>
<g id="p6-d3"><rect class="b" x="481" y="2780" width="252" height="42" rx="6"/><text class="t" x="487" y="2798"><tspan x="487">3、有一个防艾宣传教育活动室，并收集相关</tspan><tspan x="487" dy="15.2">防艾宣传教育资料，便于学校利用生教育。</tspan></text></g>
<g id="p6-d4"><rect class="b" x="481" y="2848" width="252" height="42" rx="6"/><text class="t" x="487" y="2866"><tspan x="487">4、每学年大学校要举行一期防艾宣传教育心</tspan><tspan x="487" dy="15.2">得体会交流或活动，并做好收集归档工作。</tspan></text></g>
<g id="p6-d5"><rect class="b" x="481" y="2916" width="252" height="42" rx="6"/><text class="t" x="487" y="2934"><tspan x="487">5、有一块防艾宣传教育墙报，做好宣传资料</tspan><tspan x="487" dy="15.2">更换记录。</tspan></text></g>
<g id="p6-d6"><rect class="b" x="481" y="2982" width="252" height="58" rx="6"/><text class="t" x="487" y="3000"><tspan x="487">6、一套防艾宣传教育资料，特别是防艾试卷</tspan><tspan x="487" dy="15.2">及防艾知识手册，宣传学校防艾工作中的各类</tspan><tspan x="487" dy="15.2">资料。</tspan></text></g>
<g id="p6-d7"><rect class="b" x="481" y="3067" width="252" height="42" rx="6"/><text class="t" x="487" y="3085"><tspan x="487">7、每学年开学初学校与学生家长签订1份防</tspan><tspan x="487" dy="15.2">艾责任书（写明入学安全责任书）。</tspan></text></g>
<g id="p6-d8"><rect class="b" x="481" y="3134" width="252" height="27" rx="6"/><text class="t" x="487" y="3152">8、每学年一份防艾宣传教育工作计划。</text></g>
<g id="p6-d9"><rect class="b" x="481" y="3187" width="252" height="42" rx="6"/><text class="t" x="487" y="3205"><tspan x="487">9、每学年分别有一篇防艾宣传教育主题班会</tspan><tspan x="487" dy="15.2">优秀教案或举行演讲比赛的演讲稿。</tspan></text></g>
<g id="p6-d10"><rect class="b" x="481" y="3255" width="252" height="42" rx="6"/><text class="t" x="487" y="3273"><tspan x="487">10、每学年在元旦期间组织一次防艾宣传教</tspan><tspan x="487" dy="15.2">育文艺晚会或组织一次防艾知识竞赛。</tspan></text></g>
<g id="p6-e"><rect class="b" x="204" y="3255" width="252" height="42" rx="6"/><text class="t" x="210" y="3273"><tspan x="210">（五）抓好全面普及艾滋病知识，完成各项培</tspan><tspan x="210" dy="15.2">训任务。</tspan></text></g>
<g id="p6-t1"><rect class="b" x="481" y="3321" width="252" height="73" rx="6"/><text class="t" x="487" y="3339"><tspan x="487">1、下属各校要有一名学校领导抓防艾知识普</tspan><tspan x="487" dy="15.2">及培训工作。小学高年级也要普及艾滋病知识</tspan><tspan x="487" dy="15.2">，学校领导要安排抓好此项工作。培训时间统</tspan><tspan x="487" dy="15.2">一安排在12月分第一周。</tspan></text></g>
<g id="p6-t2"><rect class="b" x="481" y="3421" width="252" height="58" rx="6"/><text class="t" x="487" y="3439"><tspan x="487">2、培训形式：第一步先对班主任进行培训，</tspan><tspan x="487" dy="15.2">对班主任的培训可以以会代训；第二步再对学</tspan><tspan x="487" dy="15.2">生进行培训，对学生的'培训不少于2学时。</tspan></text></g>
<g id="p6-t3"><rect class="b" x="489" y="3504" width="244" height="27" rx="6"/><text class="t" x="495" y="3522">3、培训教师及教材由下属各学校自行安排。</text></g>
<g id="p6-t4"><rect class="b" x="481" y="3556" width="252" height="58" rx="6"/><text class="t" x="487" y="3574"><tspan x="487">4、培训要求：培训教师要有教案（讲义），</tspan><tspan x="487" dy="15.2">培训过程要有影像资料，培训结束要作考试，</tspan><tspan x="487" dy="15.2">并准备好问卷调查。</tspan></text></g>
<g id="p6-t5"><rect class="b" x="481" y="3783" width="252" height="58" rx="6"/><text class="t" x="487" y="3801"><tspan x="487">5、良田、店子小学还要按省、州、县要求有</tspan><tspan x="487" dy="15.2">针对性地完成项目指定培训任务，按要求上报</tspan><tspan x="487" dy="15.2">培训总结。</tspan></text></g>
<g id="p6-f"><rect class="b" x="204" y="3640" width="252" height="58" rx="6"/><text class="t" x="210" y="3658"><tspan x="210">（六）抓好防艾示范学校建设认真学习全县防</tspan><tspan x="210" dy="15.2">艾示范校，充分发挥主观能动性作用，加大争</tspan><tspan x="210" dy="15.2">创力度，推动全校防艾工作健康发展。</tspan></text></g>
<g id="p6-g"><rect class="b" x="204" y="3722" width="252" height="88" rx="6"/><text class="t" x="210" y="3740"><tspan x="210">（七）做好痕迹管理工作下属各学校要高度重</tspan><tspan x="210" dy="15.2">视防艾宣传教育活动中的图片、文字等资料的</tspan><tspan x="210" dy="15.2">收集、整理、归档立卷工作，做好防艾宣传教</tspan><tspan x="210" dy="15.2">育活动中的典型事例宣传和经验总结，使宣传</tspan><tspan x="210" dy="15.2">教育活动有特色、有亮点。</tspan></text></g>
<g id="p6-h"><rect class="b" x="363" y="3836" width="93" height="27" rx="6"/><text class="t" x="369" y="3854">（八）总结工作</text></g>
<g id="p6-i"><rect class="b" x="204" y="3888" width="252" height="134" rx="6"/><text class="t" x="210" y="3906"><tspan x="210">下属各学校学校防艾培训总结及相关图片资料</tspan><tspan x="210" dy="15.2">于2015年 12月5日前电子文档报教育局教育</tspan><tspan x="210" dy="15.2">股，每年上报六期防艾工作简讯。 永定中心</tspan><tspan x="210" dy="15.2">小学2015年禁毒工作计划 为进一步增强全校</tspan></text></g>
</svg>
